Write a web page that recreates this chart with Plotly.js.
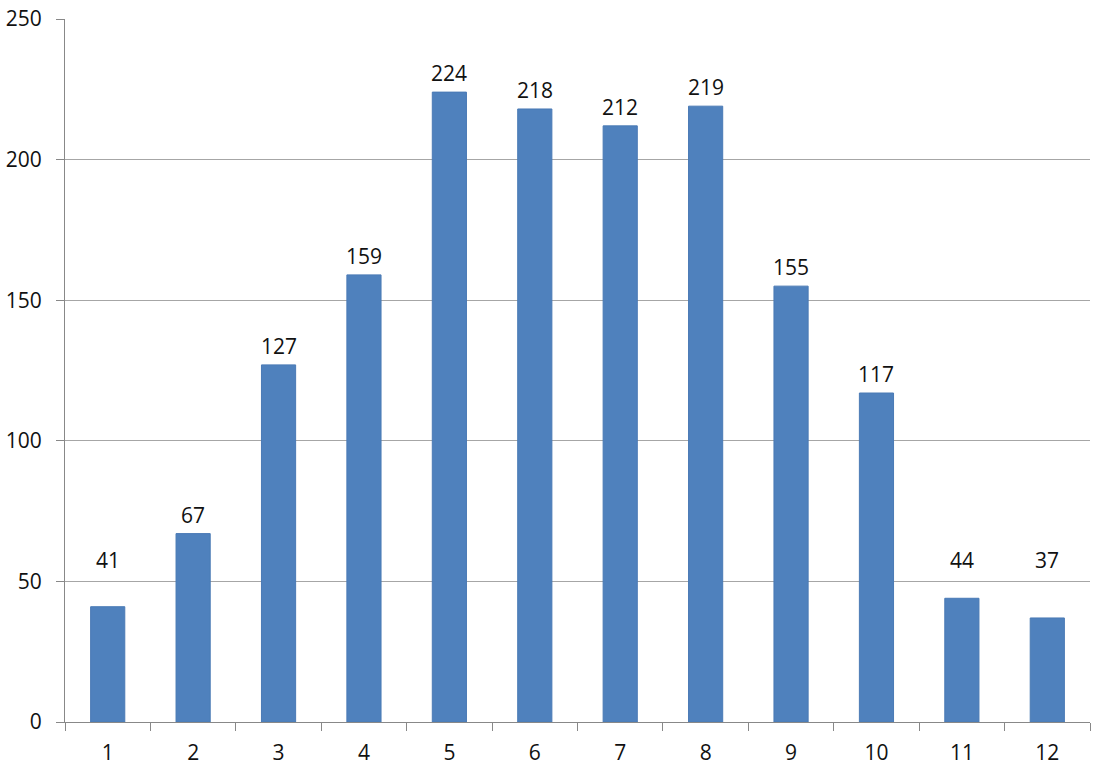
<!DOCTYPE html>
<html>
<head>
<meta charset="utf-8">
<script src="https://cdn.plot.ly/plotly-3.0.1.min.js"></script>
<style>html,body{margin:0;padding:0;background:#fff;}#chart{width:1117px;height:777px;}</style>
</head>
<body>
<div id="chart"></div>
<script>
const categories = ["1","2","3","4","5","6","7","8","9","10","11","12"];
const values = [41, 67, 127, 159, 224, 218, 212, 219, 155, 117, 44, 37];
const yTicks = [0, 50, 100, 150, 200, 250];

const FONT = 'Open Sans, Liberation Sans, sans-serif';
const labelFloor = 51; // data labels never sit below this level

const trace = {
  type: 'bar',
  x: categories,
  y: values,
  marker: {color: '#4f81bd', line: {color: '#4a7ab5', width: 1}},
  width: 0.4,
  hoverinfo: 'none'
};

const annotations = values.map((v, i) => ({
  x: i,
  y: Math.max(v, labelFloor),
  xref: 'x', yref: 'y',
  text: String(v),
  showarrow: false,
  yanchor: 'bottom',
  yshift: 3,
  font: {family: FONT, size: 21, color: '#111'}
}));

const layout = {
  width: 1117, height: 777,
  margin: {l: 65, r: 27, t: 19, b: 55},
  paper_bgcolor: '#fff', plot_bgcolor: '#fff',
  showlegend: false,
  font: {family: FONT, size: 21, color: '#111'},
  annotations: annotations,
  xaxis: {
    type: 'category',
    range: [-0.5, categories.length - 0.5],
    tickson: 'boundaries',
    ticks: 'outside', ticklen: 8, tickcolor: '#888', tickwidth: 1,
    showline: true, linecolor: '#888', linewidth: 1,
    showgrid: false, zeroline: false,
    tickfont: {family: FONT, size: 21, color: '#111'},
    ticklabelstandoff: 12
  },
  yaxis: {
    range: [0, 250],
    tickvals: yTicks,
    ticks: 'outside', ticklen: 8, tickcolor: '#888',
    showline: true, linecolor: '#888', linewidth: 1,
    showgrid: true, gridcolor: '#a6a6a6', gridwidth: 1,
    zeroline: false,
    tickfont: {family: FONT, size: 21, color: '#111'},
    ticklabelstandoff: 10
  }
};

Plotly.newPlot('chart', [trace], layout, {displayModeBar: false, staticPlot: true});
</script>
</body>
</html>
